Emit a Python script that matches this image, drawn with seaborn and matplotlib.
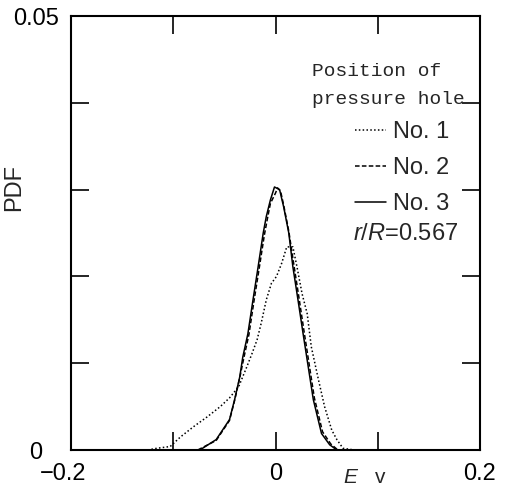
import pandas as pd
import matplotlib.pyplot as plt
import matplotlib.transforms as mtransforms
import seaborn as sns
from matplotlib.lines import Line2D

# values (Ev, PDF)
ev_no1 = [-0.125, -0.116, -0.103, -0.093, -0.080, -0.067, -0.054, -0.045, -0.036, -0.028,
          -0.023, -0.018, -0.014, -0.009, -0.004, 0.001, 0.006, 0.011, 0.017, 0.021,
          0.026, 0.031, 0.035, 0.042, 0.048, 0.055, 0.060, 0.066, 0.077]
pdf_no1 = [0.0, 0.0002, 0.0004, 0.0015, 0.0027, 0.0038, 0.0050, 0.0060, 0.0073, 0.0096,
           0.0111, 0.0127, 0.0146, 0.0173, 0.0192, 0.0200, 0.0215, 0.0234, 0.0234, 0.0211,
           0.0180, 0.0157, 0.0119, 0.0081, 0.0050, 0.0023, 0.0012, 0.0002, 0.0]

ev_no2 = [-0.076, -0.058, -0.045, -0.040, -0.035, -0.031, -0.026, -0.021, -0.016, -0.011,
          -0.008, -0.005, 0.000, 0.002, 0.005, 0.008, 0.013, 0.018, 0.023, 0.028,
          0.033, 0.038, 0.046, 0.054, 0.061]
pdf_no2 = [0.0, 0.0011, 0.0034, 0.0057, 0.0083, 0.0106, 0.0133, 0.0172, 0.0209, 0.0247,
           0.0266, 0.0284, 0.0296, 0.0302, 0.0298, 0.0282, 0.0252, 0.0213, 0.0175, 0.0136,
           0.0098, 0.0060, 0.0021, 0.0007, 0.0]

ev_no3 = [-0.074, -0.058, -0.045, -0.040, -0.035, -0.032, -0.027, -0.022, -0.017, -0.012,
          -0.009, -0.005, -0.001, 0.004, 0.008, 0.013, 0.017, 0.022, 0.027, 0.032,
          0.037, 0.045, 0.053, 0.060]
pdf_no3 = [0.0, 0.0012, 0.0035, 0.0058, 0.0084, 0.0107, 0.0134, 0.0173, 0.0211, 0.0250,
           0.0269, 0.0288, 0.0303, 0.0300, 0.0280, 0.0250, 0.0211, 0.0173, 0.0134, 0.0096,
           0.0058, 0.0019, 0.0006, 0.0]

labels = ['No. 1', 'No. 2', 'No. 3']

df = pd.concat([
    pd.DataFrame({'Ev': ev_no1, 'PDF': pdf_no1, 'hole': labels[0]}),
    pd.DataFrame({'Ev': ev_no2, 'PDF': pdf_no2, 'hole': labels[1]}),
    pd.DataFrame({'Ev': ev_no3, 'PDF': pdf_no3, 'hole': labels[2]}),
])

sns.set_theme(style='ticks')
plt.rcParams['font.family'] = ['Liberation Sans', 'DejaVu Sans']
plt.rcParams['mathtext.fontset'] = 'custom'
plt.rcParams['mathtext.it'] = 'Liberation Sans:italic'
plt.rcParams['mathtext.rm'] = 'Liberation Sans'

dash_map = {'No. 1': (1, 1.5), 'No. 2': (3, 1.5), 'No. 3': ''}

fig = plt.figure(figsize=(5.05, 4.9), dpi=100)
ax = fig.add_axes([71/505, 1-450/490, 409/505, 434/490])

sns.lineplot(data=df, x='Ev', y='PDF', style='hole', dashes=dash_map, color='black',
             linewidth=1.1, sort=False, legend=False, ax=ax)

ax.set_xlim(-0.2, 0.2)
ax.set_ylim(0, 0.05)
ax.set_xticks([-0.2, -0.1, 0, 0.1, 0.2])
ax.set_xticklabels(['\u22120.2', '', '0', '', '0.2'])
ax.set_yticks([0, 0.01, 0.02, 0.03, 0.04, 0.05])
ax.set_yticklabels(['0', '', '', '', '', '0.05'])
ax.tick_params(direction='in', length=13, width=1.2, top=True, right=True,
               labelsize=17, colors='black')
ax.tick_params(axis='x', pad=9)
ax.tick_params(axis='y', pad=6)
for s in ax.spines.values():
    s.set_linewidth(1.5)
    s.set_color('black')

# the scanned figure has some tick labels shifted left
ax.get_yticklabels()[0].set_transform(
    ax.get_yticklabels()[0].get_transform() + mtransforms.ScaledTranslation(-0.2, 0, fig.dpi_scale_trans))
ax.get_yticklabels()[-1].set_transform(
    ax.get_yticklabels()[-1].get_transform() + mtransforms.ScaledTranslation(-0.04, 0, fig.dpi_scale_trans))
ax.get_xticklabels()[0].set_transform(
    ax.get_xticklabels()[0].get_transform() + mtransforms.ScaledTranslation(-0.08, 0, fig.dpi_scale_trans))

ax.set_xlabel('')
ax.set_ylabel('PDF', fontsize=17)
ax.yaxis.set_label_coords(-0.112, 0.604)
fig.text(343/505, 1-468/490, '$E$   v', fontsize=15, va='top', ha='left')

# legend
ax.text(0.589, 0.891, 'Position of\npressure hole', transform=ax.transAxes,
        family='Liberation Mono', fontsize=14, va='top', ha='left', linespacing=1.8)
handles = [Line2D([], [], color='black', lw=1.1, linestyle=(0, dash_map[l]) if dash_map[l] else '-')
           for l in labels]
ax.legend(handles, labels, loc='upper left', bbox_to_anchor=(0.694, 0.758), frameon=False,
          fontsize=17, handlelength=1.3, handletextpad=0.3, borderpad=0, borderaxespad=0,
          labelspacing=0.6)
ax.text(0.689, 0.498, '$r$/$R$=0.567', transform=ax.transAxes, fontsize=17,
        va='center', ha='left')

plt.savefig('out.png', dpi=100)
